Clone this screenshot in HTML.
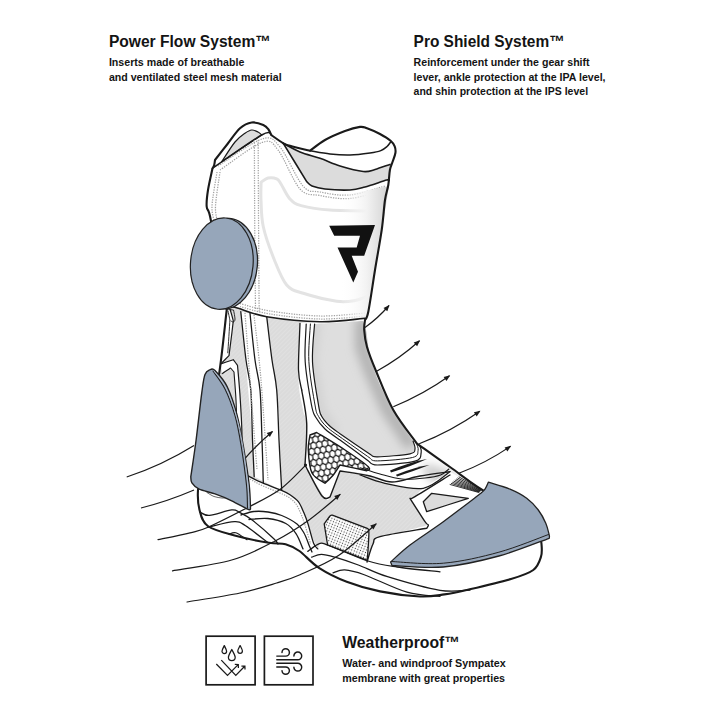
<!DOCTYPE html>
<html><head><meta charset="utf-8"><style>
html,body{margin:0;padding:0;background:#fff;}
svg{display:block;}
</style></head><body>
<svg width="720" height="720" viewBox="0 0 720 720">
<rect width="720" height="720" fill="#fff"/>
<defs>
<linearGradient id="shinShade" x1="0" y1="0" x2="1" y2="0"><stop offset="0" stop-color="#fff" stop-opacity="0"/><stop offset="0.55" stop-color="#f2f2f2"/><stop offset="1" stop-color="#d2d2d2"/></linearGradient>
<linearGradient id="ankGrad" x1="0" y1="0" x2="1" y2="0.3"><stop offset="0" stop-color="#d6d6d6"/><stop offset="0.45" stop-color="#e3e3e3"/><stop offset="1" stop-color="#c4c4c4"/></linearGradient>
<filter id="blur5" x="-50%" y="-50%" width="200%" height="200%"><feGaussianBlur stdDeviation="5"/></filter><filter id="blur4" x="-50%" y="-50%" width="200%" height="200%"><feGaussianBlur stdDeviation="4"/></filter>
<pattern id="hatch" width="3" height="3" patternUnits="userSpaceOnUse" patternTransform="rotate(45)"><rect width="3" height="3" fill="#dbdbdb"/><rect width="1" height="3" fill="#e0e0e0"/></pattern>
<pattern id="hex" width="5.716" height="9.900" patternUnits="userSpaceOnUse" patternTransform="rotate(-10) scale(1 1.15)"><rect width="5.716" height="9.900" fill="#fff"/><path d="M2.86 6.60 L-0.00 4.95 L0.00 1.65 L2.86 0.00 L5.72 1.65 L5.72 4.95 Z M0.00 11.55 L-2.86 9.90 L-2.86 6.60 L-0.00 4.95 L2.86 6.60 L2.86 9.90 Z M5.72 11.55 L2.86 9.90 L2.86 6.60 L5.72 4.95 L8.57 6.60 L8.57 9.90 Z M2.86 16.50 L-0.00 14.85 L0.00 11.55 L2.86 9.90 L5.72 11.55 L5.72 14.85 Z M0.00 1.65 L-2.86 -0.00 L-2.86 -3.30 L-0.00 -4.95 L2.86 -3.30 L2.86 0.00 Z M5.72 1.65 L2.86 -0.00 L2.86 -3.30 L5.72 -4.95 L8.57 -3.30 L8.57 0.00 Z" fill="none" stroke="#111" stroke-width="1.1"/></pattern>
<pattern id="dots" width="2.75" height="2.75" patternUnits="userSpaceOnUse" patternTransform="rotate(22)"><rect width="2.75" height="2.75" fill="#fff"/><circle cx="1.37" cy="1.37" r="0.6" fill="#3a3a3a"/></pattern>
</defs>
<path d="M212.5 168.3 C212.8 167.8 213.8 166.4 214.2 165.0 C214.6 163.6 214.9 160.8 215.0 160.0 C217.1 157.3 223.3 149.3 227.5 144.0 C231.7 138.7 236.0 131.9 240.0 128.3 C244.0 124.7 247.8 123.0 251.7 122.5 C255.6 122.0 260.5 123.8 263.3 125.0 C266.1 126.2 267.2 127.8 268.5 129.5 C269.8 131.2 270.8 134.1 271.2 135.0 C273.2 136.4 280.2 141.5 283.3 143.3 C286.4 145.1 285.6 144.6 290.0 145.8 C294.4 147.1 306.7 150.0 310.0 150.8 C312.5 149.0 319.2 143.3 325.0 140.0 C330.8 136.7 339.2 133.2 345.0 131.0 C350.8 128.8 356.3 127.4 360.0 126.9 C363.7 126.5 363.7 127.1 367.0 128.3 C370.3 129.5 376.1 131.9 380.0 134.0 C383.9 136.1 388.2 138.7 390.6 140.8 C393.1 142.9 393.9 144.4 394.7 146.4 C395.5 148.4 395.8 150.4 395.4 153.0 C395.0 155.6 393.4 159.2 392.5 162.0 C391.6 164.8 390.6 166.2 389.9 170.0 C389.2 173.8 389.1 180.0 388.3 185.0 C387.5 190.0 386.1 192.5 385.0 200.0 C383.9 207.5 383.4 218.3 381.7 230.0 C380.0 241.7 377.2 256.4 375.0 270.0 C372.8 283.6 370.0 303.4 368.3 311.7 C366.6 320.0 365.6 318.6 365.0 320.0 C364.9 321.7 363.9 325.5 364.2 330.0 C364.5 334.5 365.0 340.2 367.0 347.0 C369.0 353.8 371.6 360.5 376.0 371.0 C380.4 381.5 386.5 397.9 393.3 410.0 C400.1 422.1 412.8 437.8 416.7 443.3 C422.2 447.2 438.1 458.7 450.0 467.0 C461.9 475.3 476.3 487.5 488.0 493.0 C499.7 498.5 512.2 496.3 520.0 500.0 C527.8 503.7 531.8 510.0 535.0 515.0 C538.2 520.0 537.9 525.2 539.0 530.0 C540.1 534.8 541.2 539.5 541.5 544.0 C541.8 548.5 542.4 552.4 541.0 556.7 C539.6 561.0 538.3 566.3 533.3 570.0 C528.3 573.7 522.1 575.7 511.0 579.0 C499.9 582.3 477.8 587.4 466.7 590.0 C455.6 592.6 452.2 593.3 444.4 594.4 C436.6 595.5 430.7 597.0 420.0 596.5 C409.3 596.0 392.2 593.9 380.0 591.4 C367.8 588.9 356.9 585.6 346.7 581.7 C336.5 577.8 326.8 572.9 318.9 567.8 C311.0 562.7 304.9 554.9 299.4 551.0 C293.8 547.1 290.7 545.6 285.6 544.2 C280.5 542.8 277.2 544.2 268.9 542.8 C260.6 541.4 245.8 538.6 235.6 535.8 C225.4 533.0 213.8 530.4 207.8 526.0 C201.8 521.6 201.0 515.4 199.4 509.4 C197.8 503.4 197.6 496.6 198.0 490.0 C198.4 483.4 200.0 481.7 202.0 470.0 C204.0 458.3 207.1 436.1 210.0 420.0 C212.9 403.9 216.4 391.6 219.2 373.3 C222.0 355.0 225.4 320.6 226.7 310.0 C225.9 306.7 224.7 305.0 222.0 290.0 C219.3 275.0 213.4 233.9 210.8 220.0 C208.2 206.1 207.2 211.7 206.7 206.7 C206.2 201.7 207.0 196.4 208.0 190.0 C209.0 183.6 211.8 171.9 212.5 168.3 Z" fill="#ffffff" stroke="none" stroke-width="0" stroke-linecap="round" stroke-linejoin="round" />
<path d="M221.7 161.7 C223.9 158.4 231.1 146.7 235.0 142.0 C238.9 137.3 242.2 135.3 245.0 133.3 C247.8 131.3 249.5 130.2 251.7 130.0 C253.9 129.8 256.3 131.2 258.0 132.0 C259.7 132.8 261.1 134.5 261.7 135.0 C255.0 139.4 228.4 157.2 221.7 161.7 Z" fill="#dcdcdc" stroke="#1a1a1a" stroke-width="1.2" stroke-linecap="round" stroke-linejoin="round" />
<path d="M283.3 143.3 C286.1 144.8 293.9 149.5 300.0 152.0 C306.1 154.5 313.3 156.0 320.0 158.3 C326.7 160.6 332.8 163.8 340.0 166.0 C347.2 168.2 357.5 170.9 363.3 171.5 C369.1 172.1 370.4 170.8 375.0 169.5 C379.6 168.2 388.3 164.9 391.0 164.0 C390.7 167.0 389.3 179.0 389.0 182.0 C388.6 181.7 390.7 179.2 386.7 180.0 C382.7 180.8 371.1 185.3 365.0 187.0 C358.9 188.7 356.7 189.7 350.0 190.0 C343.3 190.3 331.3 189.7 325.0 189.0 C318.7 188.3 315.1 187.2 312.0 186.0 C308.9 184.8 307.6 182.4 306.7 181.7 C302.8 175.3 287.2 149.7 283.3 143.3 Z" fill="#dcdcdc" stroke="none" stroke-width="0" stroke-linecap="round" stroke-linejoin="round" />
<path d="M283.3 143.3 C286.1 144.8 293.9 149.5 300.0 152.0 C306.1 154.5 313.3 156.0 320.0 158.3 C326.7 160.6 332.8 163.8 340.0 166.0 C347.2 168.2 357.5 170.9 363.3 171.5 C369.1 172.1 370.6 170.7 375.0 169.5 C379.4 168.3 387.5 165.2 390.0 164.4 " fill="none" stroke="#1a1a1a" stroke-width="1.6" stroke-linecap="round" stroke-linejoin="round" />
<path d="M389.0 180.5 C388.6 180.4 390.7 178.9 386.7 180.0 C382.7 181.1 371.1 185.3 365.0 187.0 C358.9 188.7 356.7 189.7 350.0 190.0 C343.3 190.3 331.3 189.7 325.0 189.0 C318.7 188.3 315.1 187.2 312.0 186.0 C308.9 184.8 307.6 182.4 306.7 181.7 C302.8 175.3 287.2 149.7 283.3 143.3 " fill="none" stroke="#1a1a1a" stroke-width="1.6" stroke-linecap="round" stroke-linejoin="round" />
<path d="M212.5 168.3 C220.7 162.8 251.8 140.6 261.7 135.0 C271.6 129.4 270.0 135.0 271.7 135.0 " fill="none" stroke="#1a1a1a" stroke-width="1.6" stroke-linecap="round" stroke-linejoin="round" />
<path d="M310.0 150.8 C313.3 151.3 323.3 153.3 330.0 154.0 C336.7 154.7 343.3 155.2 350.0 155.0 C356.7 154.8 364.9 153.7 370.0 153.0 C375.1 152.3 378.0 151.7 380.8 150.6 C383.6 149.5 385.4 147.9 387.0 146.5 C388.6 145.1 390.0 142.8 390.6 142.0 " fill="none" stroke="#1a1a1a" stroke-width="1.5" stroke-linecap="round" stroke-linejoin="round" />
<path d="M383.3 211.1 C374.4 210.9 343.7 210.9 330.0 210.0 C316.3 209.1 307.8 207.4 301.1 205.6 C294.4 203.8 293.4 202.6 290.0 199.0 C286.6 195.4 283.2 187.3 281.0 184.0 C278.8 180.7 278.9 179.9 276.7 178.9 C274.5 177.9 270.6 177.4 268.0 178.0 C265.4 178.6 262.2 181.5 261.1 182.2 C261.1 185.2 260.6 192.6 261.0 200.0 C261.4 207.4 261.1 216.7 263.3 226.7 C265.5 236.7 270.5 250.3 274.4 260.0 C278.3 269.7 281.9 279.4 286.7 285.0 C291.5 290.6 295.0 290.6 303.3 293.3 C311.6 296.0 328.1 300.0 336.7 301.2 C345.3 302.4 349.8 301.4 355.0 300.5 C360.2 299.6 365.8 296.8 368.0 296.0 " fill="none" stroke="#e3e3e3" stroke-width="3.0" stroke-linecap="round" stroke-linejoin="round" />
<path d="M254.4 140.0 C254.4 150.0 254.5 180.0 254.6 200.0 C254.7 220.0 254.8 241.7 255.0 260.0 C255.2 278.3 255.4 301.7 255.5 310.0 " fill="none" stroke="#a2a2a2" stroke-width="1.25" stroke-linecap="butt" stroke-linejoin="round" stroke-dasharray="1.3 1.2"/>
<path d="M258.2 140.0 C258.2 150.0 258.3 180.0 258.4 200.0 C258.5 220.0 258.7 241.3 258.8 260.0 C258.9 278.7 259.1 303.3 259.2 312.0 " fill="none" stroke="#a2a2a2" stroke-width="1.25" stroke-linecap="butt" stroke-linejoin="round" stroke-dasharray="1.3 1.2"/>
<path d="M217.0 172.0 C216.2 177.7 212.4 197.7 212.0 206.0 C211.6 214.3 214.1 219.3 214.5 222.0 " fill="none" stroke="#a2a2a2" stroke-width="1.25" stroke-linecap="butt" stroke-linejoin="round" stroke-dasharray="1.3 1.2"/>
<path d="M220.0 172.0 C219.2 177.7 215.9 197.7 215.5 206.0 C215.1 214.3 217.2 219.3 217.5 222.0 " fill="none" stroke="#a2a2a2" stroke-width="1.25" stroke-linecap="butt" stroke-linejoin="round" stroke-dasharray="1.3 1.2"/>
<path d="M218.0 166.0 C225.3 161.5 251.7 142.2 262.0 139.0 C272.3 135.8 273.2 139.2 280.0 147.0 C286.8 154.8 296.3 178.5 303.0 186.0 C309.7 193.5 312.2 190.5 320.0 192.0 C327.8 193.5 339.2 196.0 350.0 195.0 C360.8 194.0 379.2 187.5 385.0 186.0 " fill="none" stroke="#a2a2a2" stroke-width="1.25" stroke-linecap="butt" stroke-linejoin="round" stroke-dasharray="1.3 1.2"/>
<path d="M220.0 170.0 C227.0 165.4 252.3 145.8 262.0 142.5 C271.7 139.2 271.7 142.2 278.0 150.0 C284.3 157.8 293.0 181.4 300.0 189.0 C307.0 196.6 311.7 193.9 320.0 195.5 C328.3 197.1 339.3 199.4 350.0 198.5 C360.7 197.6 378.3 191.4 384.0 190.0 " fill="none" stroke="#a2a2a2" stroke-width="1.25" stroke-linecap="butt" stroke-linejoin="round" stroke-dasharray="1.3 1.2"/>
<path d="M240.0 303.5 C245.0 304.8 256.7 308.9 270.0 311.0 C283.3 313.1 304.0 315.7 320.0 316.0 C336.0 316.3 358.3 313.5 366.0 313.0 " fill="none" stroke="#a2a2a2" stroke-width="1.25" stroke-linecap="butt" stroke-linejoin="round" stroke-dasharray="1.3 1.2"/>
<path d="M240.0 306.5 C245.0 307.8 256.7 311.9 270.0 314.0 C283.3 316.1 304.0 318.7 320.0 319.0 C336.0 319.3 358.3 316.5 366.0 316.0 " fill="none" stroke="#a2a2a2" stroke-width="1.25" stroke-linecap="butt" stroke-linejoin="round" stroke-dasharray="1.3 1.2"/>
<path d="M340 196 L389 186 L368 318 L340 318 Z" fill="url(#shinShade)"/>
<path d="M329.2 225.8 L375 225 L364.2 255.8 L351.7 255.8 L358 271.7 L353.3 282.5 L337.5 247.5 L356.7 247.5 L360 235.8 L334.2 235.8 Z" fill="#111"/>
<path d="M226.7 310.0 C228.6 309.7 231.3 306.9 238.0 308.0 C244.7 309.1 253.0 314.4 266.7 316.7 C280.4 319.0 303.6 321.4 320.0 321.7 C336.4 322.0 357.5 318.9 365.0 318.3 C364.9 320.2 363.9 325.2 364.2 330.0 C364.5 334.8 365.0 340.2 367.0 347.0 C369.0 353.8 371.6 360.5 376.0 371.0 C380.4 381.5 386.5 397.9 393.3 410.0 C400.1 422.1 412.8 437.8 416.7 443.3 C422.2 447.2 439.1 459.4 450.0 467.0 C460.9 474.6 476.7 485.3 482.0 489.0 C475.0 490.8 452.0 498.5 440.0 500.0 C428.0 501.5 415.0 498.3 410.0 498.0 C412.5 501.9 422.0 517.2 425.0 521.7 C428.0 526.2 435.5 522.5 428.0 525.0 C420.5 527.5 388.0 534.8 380.0 536.7 C378.8 537.9 375.2 539.8 373.0 544.0 C370.8 548.2 368.0 559.0 367.0 562.0 C360.7 559.3 337.1 548.7 329.2 545.6 C321.3 542.5 321.0 543.9 319.4 543.6 C319.1 544.5 318.1 548.0 317.8 548.9 C314.8 544.1 311.3 531.8 300.0 520.0 C288.7 508.2 264.2 486.0 250.0 478.0 C235.8 470.0 222.0 481.7 215.0 472.0 C208.0 462.3 207.3 436.4 208.0 420.0 C208.7 403.6 216.1 391.6 219.2 373.3 C222.3 355.0 225.4 320.6 226.7 310.0 Z" fill="url(#hatch)" stroke="none" stroke-width="0" stroke-linecap="round" stroke-linejoin="round" />
<path d="M241.0 311.7 C245.3 312.5 262.4 315.9 266.7 316.7 C267.6 323.9 270.1 344.4 272.0 360.0 C273.9 375.6 276.7 388.3 278.3 410.0 C279.9 431.7 281.1 476.7 281.7 490.0 C277.1 487.8 258.8 478.9 254.2 476.7 C253.5 465.6 252.2 437.5 250.0 410.0 C247.8 382.5 242.5 328.1 241.0 311.7 Z" fill="#fff" stroke="none" stroke-width="0" stroke-linecap="round" stroke-linejoin="round" />
<path d="M226.7 310.0 C227.2 309.8 229.4 309.2 230.0 309.0 C230.6 311.0 232.8 318.8 233.3 320.8 C233.1 322.7 232.7 326.2 232.0 332.0 C231.3 337.8 229.5 351.7 229.0 355.6 C227.6 357.0 222.2 362.5 220.8 363.9 C220.5 364.8 219.1 368.5 218.8 369.4 Z" fill="#fff" stroke="none" stroke-width="0" stroke-linecap="round" stroke-linejoin="round" />
<path d="M300.0 323.0 C299.8 332.5 298.0 365.5 298.5 380.0 C299.0 394.5 301.8 402.8 303.0 410.0 C304.2 417.2 305.6 413.7 306.0 423.0 C306.4 432.3 305.6 458.8 305.5 466.0 C308.8 471.3 320.9 492.8 325.0 498.0 C329.1 503.2 329.2 497.2 330.0 497.0 C331.7 492.5 338.3 474.5 340.0 470.0 C345.0 470.8 362.5 472.8 370.0 475.0 C377.5 477.2 376.1 481.1 385.0 483.3 C393.9 485.5 412.5 490.2 423.3 488.3 C434.1 486.4 445.6 474.5 450.0 471.7 C455.0 474.4 475.0 485.3 480.0 488.0 C469.4 480.6 427.2 450.8 416.7 443.3 C412.8 437.8 400.1 422.1 393.3 410.0 C386.5 397.9 380.4 381.5 376.0 371.0 C371.6 360.5 369.0 353.8 367.0 347.0 C365.0 340.2 364.5 334.5 364.2 330.0 C363.9 325.5 364.9 321.7 365.0 320.0 C357.5 320.3 330.8 321.2 320.0 321.7 C309.2 322.2 303.3 322.8 300.0 323.0 Z" fill="#fff" stroke="none" stroke-width="0" stroke-linecap="round" stroke-linejoin="round" />
<clipPath id="midClip"><path d="M300.0 323.0 C299.8 332.5 298.0 365.5 298.5 380.0 C299.0 394.5 301.8 402.8 303.0 410.0 C304.2 417.2 305.6 413.7 306.0 423.0 C306.4 432.3 305.6 458.8 305.5 466.0 C308.8 471.3 320.9 492.8 325.0 498.0 C329.1 503.2 329.2 497.2 330.0 497.0 C331.7 492.5 338.3 474.5 340.0 470.0 C345.0 470.8 362.5 472.8 370.0 475.0 C377.5 477.2 376.1 481.1 385.0 483.3 C393.9 485.5 412.5 490.2 423.3 488.3 C434.1 486.4 445.6 474.5 450.0 471.7 C455.0 474.4 475.0 485.3 480.0 488.0 C469.4 480.6 427.2 450.8 416.7 443.3 C412.8 437.8 400.1 422.1 393.3 410.0 C386.5 397.9 380.4 381.5 376.0 371.0 C371.6 360.5 369.0 353.8 367.0 347.0 C365.0 340.2 364.5 334.5 364.2 330.0 C363.9 325.5 364.9 321.7 365.0 320.0 C357.5 320.3 330.8 321.2 320.0 321.7 C309.2 322.2 303.3 322.8 300.0 323.0 Z"/></clipPath>
<g clip-path="url(#midClip)"><ellipse cx="443" cy="478" rx="24" ry="9" transform="rotate(28 443 478)" fill="#cfcfcf" filter="url(#blur5)"/></g>
<clipPath id="ankClip"><path d="M314.6 324.0 C314.2 330.3 311.9 348.2 312.5 361.7 C313.1 375.2 317.0 395.9 318.5 405.0 C320.0 414.1 319.7 412.6 321.5 416.0 C323.3 419.4 326.1 422.5 329.2 425.5 C332.3 428.5 333.0 428.8 340.0 433.8 C347.0 438.7 365.0 451.1 371.2 455.0 C377.5 458.9 371.0 457.1 377.5 456.9 C384.0 456.7 403.8 455.1 410.0 453.8 C416.2 452.4 414.5 450.8 415.0 448.8 C415.5 446.7 413.4 442.5 413.1 441.2 C410.6 437.4 403.5 427.4 398.0 418.0 C392.5 408.6 384.7 395.5 380.0 385.0 C375.3 374.5 372.3 364.2 370.0 355.0 C367.7 345.8 367.2 335.7 366.0 330.0 C364.8 324.3 363.5 322.5 363.0 321.0 C354.9 321.5 322.7 323.5 314.6 324.0 Z"/></clipPath>
<path d="M314.6 324.0 C314.2 330.3 311.9 348.2 312.5 361.7 C313.1 375.2 317.0 395.9 318.5 405.0 C320.0 414.1 319.7 412.6 321.5 416.0 C323.3 419.4 326.1 422.5 329.2 425.5 C332.3 428.5 333.0 428.8 340.0 433.8 C347.0 438.7 365.0 451.1 371.2 455.0 C377.5 458.9 371.0 457.1 377.5 456.9 C384.0 456.7 403.8 455.1 410.0 453.8 C416.2 452.4 414.5 450.8 415.0 448.8 C415.5 446.7 413.4 442.5 413.1 441.2 C410.6 437.4 403.5 427.4 398.0 418.0 C392.5 408.6 384.7 395.5 380.0 385.0 C375.3 374.5 372.3 364.2 370.0 355.0 C367.7 345.8 367.2 335.7 366.0 330.0 C364.8 324.3 363.5 322.5 363.0 321.0 C354.9 321.5 322.7 323.5 314.6 324.0 Z" fill="#dedede" stroke="none" stroke-width="0" stroke-linecap="round" stroke-linejoin="round" />
<g clip-path="url(#ankClip)"><path d="M316 320 L312 362 L320 410 L335 432" stroke="#d2d2d2" stroke-width="10" fill="none" filter="url(#blur4)"/><path d="M362 318 L362 347 L371 372 L388 410 L412 446" stroke="#b4b4b4" stroke-width="14" fill="none" filter="url(#blur5)"/></g>
<path d="M314.6 324.0 C314.2 330.3 311.9 348.2 312.5 361.7 C313.1 375.2 317.0 395.9 318.5 405.0 C320.0 414.1 319.7 412.6 321.5 416.0 C323.3 419.4 326.1 422.5 329.2 425.5 C332.3 428.5 338.2 432.4 340.0 433.8 C345.2 437.3 366.0 451.5 371.2 455.0 C372.3 455.3 371.0 457.1 377.5 456.9 C384.0 456.7 403.8 455.1 410.0 453.8 C416.2 452.4 414.5 450.8 415.0 448.8 C415.5 446.7 413.4 442.5 413.1 441.2 " fill="none" stroke="#1a1a1a" stroke-width="1.2" stroke-linecap="round" stroke-linejoin="round" />
<path d="M310.4 324.0 C310.2 330.3 308.1 348.2 308.9 361.7 C309.6 375.2 313.4 395.9 315.0 405.0 C316.6 414.1 316.5 412.8 318.6 416.5 C320.6 420.2 323.5 423.9 327.1 427.2 C330.7 430.6 337.9 435.3 340.0 436.9 C345.0 440.4 365.0 454.6 370.0 458.1 C371.2 458.6 370.4 461.1 377.5 460.9 C384.6 460.8 405.7 459.2 412.5 457.5 C419.3 455.8 417.4 452.9 418.1 450.6 C418.8 448.3 416.8 444.9 416.6 443.8 " fill="none" stroke="#1a1a1a" stroke-width="1.0" stroke-linecap="round" stroke-linejoin="round" />
<path d="M306.2 324.0 C306.1 330.3 304.3 348.2 305.2 361.7 C306.1 375.2 309.8 395.8 311.5 405.0 C313.2 414.2 313.4 413.0 315.6 417.0 C317.9 421.0 320.9 425.2 325.0 429.0 C329.1 432.8 337.5 438.2 340.0 440.0 C344.8 443.5 364.0 457.7 368.8 461.2 C370.2 461.9 369.8 465.0 377.5 465.0 C385.2 465.0 407.7 463.3 415.0 461.2 C422.3 459.2 420.4 455.0 421.2 452.5 C422.1 450.0 420.2 447.3 420.0 446.2 " fill="none" stroke="#1a1a1a" stroke-width="1.2" stroke-linecap="round" stroke-linejoin="round" />
<path d="M310.0 435.0 C311.1 434.6 315.6 432.9 316.7 432.5 C321.4 435.4 336.4 444.3 345.0 450.0 C353.6 455.7 364.7 463.2 368.3 466.7 C371.9 470.2 367.0 470.1 366.7 470.8 C362.2 469.8 344.4 466.0 340.0 465.0 C338.9 466.7 335.8 471.9 333.3 475.0 C330.8 478.1 326.4 481.9 325.0 483.3 C322.8 481.6 314.8 478.6 312.0 473.0 C309.2 467.4 308.6 456.3 308.3 450.0 C308.0 443.7 309.7 437.5 310.0 435.0 Z" fill="url(#hex)" stroke="#1a1a1a" stroke-width="1.4" stroke-linecap="round" stroke-linejoin="round" />
<path d="M301.7 390.0 C302.5 395.6 306.1 410.8 306.7 423.3 C307.2 435.8 305.3 458.1 305.0 465.0 C307.8 470.2 317.8 490.7 322.0 496.0 C326.2 501.3 328.7 496.8 330.0 497.0 C331.7 492.7 338.3 475.3 340.0 471.0 C345.0 471.8 361.3 474.2 370.0 476.0 C378.7 477.8 383.7 482.0 392.0 482.0 C400.3 482.0 410.3 477.7 420.0 476.0 C429.7 474.3 445.0 472.4 450.0 471.7 " fill="none" stroke="#1a1a1a" stroke-width="1.4" stroke-linecap="round" stroke-linejoin="round" />
<path d="M240.8 311.7 C241.7 319.8 244.3 346.9 246.0 360.0 C247.7 373.1 249.7 376.7 250.8 390.0 C251.9 403.3 251.9 425.6 252.5 440.0 C253.1 454.4 253.9 470.6 254.2 476.7 " fill="none" stroke="#1a1a1a" stroke-width="1.3" stroke-linecap="round" stroke-linejoin="round" />
<path d="M250.0 313.3 C250.8 321.1 253.3 347.2 255.0 360.0 C256.7 372.8 258.8 376.7 260.0 390.0 C261.2 403.3 261.4 424.4 262.0 440.0 C262.6 455.6 263.1 476.1 263.3 483.3 " fill="none" stroke="#1a1a1a" stroke-width="1.3" stroke-linecap="round" stroke-linejoin="round" />
<path d="M266.7 316.7 C267.6 323.9 270.3 347.8 272.0 360.0 C273.7 372.2 275.5 376.7 276.7 390.0 C277.9 403.3 278.2 423.3 279.0 440.0 C279.8 456.7 281.2 481.7 281.7 490.0 " fill="none" stroke="#1a1a1a" stroke-width="1.3" stroke-linecap="round" stroke-linejoin="round" />
<path d="M300.0 323.3 C299.8 331.1 298.2 358.9 298.5 370.0 C298.8 381.1 301.2 386.7 301.7 390.0 " fill="none" stroke="#1a1a1a" stroke-width="1.3" stroke-linecap="round" stroke-linejoin="round" />
<path d="M245.0 313.0 C245.8 324.2 248.0 353.8 250.0 380.0 C252.0 406.2 255.8 455.0 257.0 470.0 " fill="none" stroke="#a2a2a2" stroke-width="1.25" stroke-linecap="butt" stroke-linejoin="round" stroke-dasharray="1.3 1.2"/>
<path d="M254.0 315.0 C255.2 325.8 258.7 352.5 261.0 380.0 C263.3 407.5 266.8 463.3 268.0 480.0 " fill="none" stroke="#a2a2a2" stroke-width="1.25" stroke-linecap="butt" stroke-linejoin="round" stroke-dasharray="1.3 1.2"/>
<path d="M230.0 309.0  C230.6 311.0 232.8 318.8 233.3 320.8 C233.1 322.7 232.7 326.2 232.0 332.0 C231.3 337.8 229.5 351.7 229.0 355.6 C227.6 357.0 222.2 362.5 220.8 363.9 " fill="none" stroke="#1a1a1a" stroke-width="1.2" stroke-linecap="round" stroke-linejoin="round" />
<path d="M228.0 311.0 C228.3 312.5 229.6 318.5 229.9 320.0 C229.6 325.5 228.2 347.3 227.8 352.8 " fill="none" stroke="#1a1a1a" stroke-width="0.9" stroke-linecap="round" stroke-linejoin="round" />
<path d="M227.5 309.5 C228.5 309.6 232.5 309.9 233.5 310.0 C233.8 311.5 235.0 317.0 235.0 319.0 C235.0 321.0 234.2 321.7 233.5 322.0 C232.8 322.3 231.4 321.2 231.0 321.0 " fill="none" stroke="#1a1a1a" stroke-width="0.9" stroke-linecap="round" stroke-linejoin="round" />
<path d="M220.8 363.9 C222.9 363.2 231.2 360.4 233.3 359.7 C234.0 360.6 236.8 364.4 237.5 365.3 C238.0 371.1 239.7 389.2 240.3 400.0 C240.9 410.8 240.9 425.0 241.0 430.0 C240.3 430.0 237.7 430.0 237.0 430.0 C236.8 425.0 236.5 409.7 236.0 400.0 C235.5 390.3 234.3 376.7 234.0 372.0 C233.4 371.3 231.2 368.7 230.6 368.0 C229.2 368.9 223.6 372.7 222.2 373.6 Z" fill="#fff" stroke="none" stroke-width="0" stroke-linecap="round" stroke-linejoin="round" />
<path d="M220.8 363.9  C222.9 363.2 231.2 360.4 233.3 359.7 C234.0 360.6 236.8 364.4 237.5 365.3 C238.0 371.1 239.6 387.6 240.3 400.0 C241.1 412.4 242.1 428.3 242.0 440.0 C241.9 451.7 240.3 465.0 240.0 470.0 " fill="none" stroke="#1a1a1a" stroke-width="1.2" stroke-linecap="round" stroke-linejoin="round" />
<path d="M222.2 373.6  C223.6 372.7 229.2 368.9 230.6 368.0 C231.2 368.7 233.4 371.3 234.0 372.0 C234.3 376.7 235.5 390.3 236.0 400.0 C236.5 409.7 236.8 425.0 237.0 430.0 " fill="none" stroke="#1a1a1a" stroke-width="1.1" stroke-linecap="round" stroke-linejoin="round" />
<path d="M410.0 498.3 C412.5 502.2 421.9 517.2 425.0 521.7 C428.1 526.2 428.0 523.9 428.3 525.0 C428.6 526.1 427.0 527.8 426.7 528.3 C418.9 529.7 388.9 534.1 380.0 536.7 C371.1 539.3 375.2 539.8 373.0 544.0 C370.8 548.2 368.0 559.0 367.0 562.0 C371.2 562.7 387.8 565.3 392.0 566.0 C408.0 553.8 472.0 505.2 488.0 493.0 C481.7 489.4 456.3 475.2 450.0 471.7 C445.6 474.5 429.1 484.1 423.3 488.3 C417.5 492.5 417.2 495.0 415.0 496.7 C412.8 498.4 410.8 498.0 410.0 498.3 Z" fill="#fff" stroke="none" stroke-width="0" stroke-linecap="round" stroke-linejoin="round" />
<path d="M360.0 475.0 C364.2 476.4 374.4 481.1 385.0 483.3 C395.6 485.5 412.5 490.2 423.3 488.3 C434.1 486.4 445.6 474.5 450.0 471.7 " fill="none" stroke="#1a1a1a" stroke-width="1.2" stroke-linecap="round" stroke-linejoin="round" />
<path d="M450.0 475.0 C444.2 478.6 421.7 492.8 415.0 496.7 C408.3 500.6 410.8 498.0 410.0 498.3 C412.5 502.2 421.9 517.2 425.0 521.7 C428.1 526.2 428.0 523.9 428.3 525.0 C428.6 526.1 427.0 527.8 426.7 528.3 C418.9 529.7 388.9 534.1 380.0 536.7 C371.1 539.3 375.2 539.8 373.0 544.0 C370.8 548.2 368.0 559.0 367.0 562.0 " fill="none" stroke="#1a1a1a" stroke-width="1.4" stroke-linecap="round" stroke-linejoin="round" />
<path d="M423.3 501.7 C424.7 500.3 430.3 494.7 431.7 493.3 C437.8 494.1 462.2 497.5 468.3 498.3 C461.4 500.5 433.6 509.5 426.7 511.7 C426.1 510.0 423.9 503.4 423.3 501.7 Z" fill="#dcdcdc" stroke="#1a1a1a" stroke-width="1.3" stroke-linecap="round" stroke-linejoin="round" />
<path d="M324.2 524.0 C325.2 522.7 328.5 517.5 330.0 516.0 C331.5 514.5 332.5 515.4 333.0 515.3 C338.7 517.5 361.6 526.1 367.3 528.3 C367.6 529.1 368.9 527.6 368.9 533.0 C368.9 538.4 367.6 555.8 367.3 560.4 C360.7 557.8 334.2 547.6 327.6 545.0 C327.0 541.5 324.8 527.5 324.2 524.0 Z" fill="url(#dots)" stroke="#1a1a1a" stroke-width="1.3" stroke-linecap="round" stroke-linejoin="round" />
<path d="M214.0 470.0 C219.5 470.9 239.1 473.3 246.9 475.3 C254.7 477.3 255.2 479.8 260.8 482.2 C266.4 484.6 275.4 487.8 280.3 489.9 C285.2 492.0 287.0 492.7 290.0 494.7 C293.0 496.7 296.0 498.7 298.3 501.7 C300.6 504.7 302.3 509.1 303.9 512.8 C305.5 516.5 306.4 518.8 308.0 523.9 C309.6 529.0 312.0 539.1 313.6 543.3 C315.2 547.5 317.1 548.0 317.8 548.9 C313.2 548.4 302.0 547.3 290.0 546.0 C278.0 544.7 256.8 543.0 246.0 541.0 C235.2 539.0 231.3 536.3 225.0 534.0 C218.7 531.7 212.0 529.3 208.0 527.0 C204.0 524.7 202.7 523.7 201.0 520.0 C199.3 516.3 198.5 510.0 198.0 505.0 C197.5 500.0 195.3 495.8 198.0 490.0 C200.7 484.2 211.3 473.3 214.0 470.0 Z" fill="#fff" stroke="none" stroke-width="0" stroke-linecap="round" stroke-linejoin="round" />
<path d="M246.9 475.3 C249.2 476.4 255.2 479.8 260.8 482.2 C266.4 484.6 275.4 487.8 280.3 489.9 C285.2 492.0 287.0 492.7 290.0 494.7 C293.0 496.7 296.0 498.7 298.3 501.7 C300.6 504.7 302.3 509.1 303.9 512.8 C305.5 516.5 306.4 518.8 308.0 523.9 C309.6 529.0 312.0 539.1 313.6 543.3 C315.2 547.5 317.1 548.0 317.8 548.9 " fill="none" stroke="#1a1a1a" stroke-width="1.3" stroke-linecap="round" stroke-linejoin="round" />
<path d="M250.0 479.0 C252.0 480.1 257.0 483.2 262.0 485.5 C267.0 487.8 275.5 491.0 280.0 493.0 C284.5 495.0 286.3 495.7 289.0 497.5 C291.7 499.3 294.0 501.2 296.0 504.0 C298.0 506.8 299.5 510.5 301.0 514.0 C302.5 517.5 303.4 520.0 305.0 525.0 C306.6 530.0 309.6 540.8 310.5 544.0 " fill="none" stroke="#a2a2a2" stroke-width="1.25" stroke-linecap="butt" stroke-linejoin="round" stroke-dasharray="1.3 1.2"/>
<path d="M207.0 492.5 C208.2 493.2 211.5 495.6 214.0 496.5 C216.5 497.4 219.7 497.8 222.0 498.0 C224.3 498.2 227.0 497.6 228.0 497.5 " fill="none" stroke="#555" stroke-width="0.9" stroke-linecap="round" stroke-linejoin="round" />
<path d="M232.0 307.0 C233.1 307.2 232.5 306.7 238.3 308.3 C244.1 309.9 253.1 314.5 266.7 316.7 C280.3 318.9 303.6 321.4 320.0 321.7 C336.4 322.0 357.5 318.9 365.0 318.3 " fill="none" stroke="#1a1a1a" stroke-width="1.6" stroke-linecap="round" stroke-linejoin="round" />
<path d="M199.7 512.0 C201.3 512.6 204.1 515.8 209.4 515.4 C214.7 515.0 226.6 510.4 231.7 509.9 C236.8 509.4 236.5 510.9 240.0 512.6 C243.5 514.3 246.9 516.0 252.5 520.3 C258.1 524.6 269.1 534.3 273.3 538.3 C277.6 542.2 277.2 543.0 278.0 544.0 " fill="none" stroke="#1a1a1a" stroke-width="1.3" stroke-linecap="round" stroke-linejoin="round" />
<path d="M208.0 527.2 C212.4 526.3 228.1 521.9 234.4 521.7 C240.7 521.5 240.0 522.3 245.6 525.8 C251.2 529.3 264.1 539.7 267.8 542.5 " fill="none" stroke="#1a1a1a" stroke-width="1.3" stroke-linecap="round" stroke-linejoin="round" />
<path d="M228.9 534.2 C230.1 534.0 232.8 531.9 235.8 532.8 C238.8 533.7 245.1 538.6 247.0 539.7 " fill="none" stroke="#1a1a1a" stroke-width="1.2" stroke-linecap="round" stroke-linejoin="round" />
<path d="M241.0 515.0 C243.2 514.4 249.4 512.0 253.9 511.5 C258.4 511.0 263.4 511.3 268.0 512.0 C272.6 512.7 276.9 513.5 281.7 515.5 C286.5 517.5 293.3 521.1 297.0 524.0 C300.7 526.9 301.9 529.3 304.0 533.0 C306.1 536.7 308.1 542.9 309.4 546.1 C310.7 549.3 311.6 551.0 312.0 552.0 " fill="none" stroke="#1a1a1a" stroke-width="1.3" stroke-linecap="round" stroke-linejoin="round" />
<path d="M249.0 519.5 C252.1 519.3 261.7 517.8 267.8 518.5 C273.9 519.2 281.1 521.0 285.8 523.5 C290.5 526.0 293.1 529.4 296.0 533.6 C298.9 537.8 301.8 546.4 303.0 548.9 " fill="none" stroke="#1a1a1a" stroke-width="1.3" stroke-linecap="round" stroke-linejoin="round" />
<path d="M307.8 551.4 C309.7 550.1 315.8 544.6 319.4 543.6 C323.0 542.6 321.1 542.7 329.2 545.6 C337.3 548.5 356.7 557.4 368.0 561.0 C379.3 564.6 385.2 565.2 397.2 567.0 C409.2 568.8 432.9 571.0 440.0 571.8 " fill="none" stroke="#1a1a1a" stroke-width="1.3" stroke-linecap="round" stroke-linejoin="round" />
<path d="M311.7 557.2 C313.3 556.7 317.5 554.3 321.4 554.3 C325.3 554.3 328.9 555.4 335.0 557.2 C341.1 559.0 349.6 561.8 358.3 565.0 C367.1 568.2 373.9 572.5 387.5 576.7 C401.1 580.9 426.2 588.1 440.0 590.3 C453.8 592.5 465.0 590.0 470.0 590.0 " fill="none" stroke="#1a1a1a" stroke-width="1.3" stroke-linecap="round" stroke-linejoin="round" />
<path d="M333.0 572.8 C334.9 572.3 339.5 569.6 344.7 569.9 C349.9 570.2 353.8 571.0 364.2 574.7 C374.6 578.4 394.4 588.6 407.0 592.2 C419.6 595.8 434.5 595.8 440.0 596.5 " fill="none" stroke="#1a1a1a" stroke-width="1.2" stroke-linecap="round" stroke-linejoin="round" />
<path d="M126.7 477.0 Q162.2 465.3 194.0 445.5" fill="none" stroke="#1a1a1a" stroke-width="1.2"/>
<path d="M141.0 508.0 Q168.2 501.1 194.0 490.0" fill="none" stroke="#1a1a1a" stroke-width="1.2"/>
<path d="M158.0 539.6 C163.3 538.5 181.7 534.9 190.0 532.8 C198.3 530.7 198.3 531.5 208.0 527.2 C217.7 522.9 236.2 513.5 248.3 507.2 C260.4 500.9 270.8 496.1 280.3 489.2 C289.8 482.3 301.1 469.5 305.3 465.6 " fill="none" stroke="#1a1a1a" stroke-width="1.2" stroke-linecap="round" stroke-linejoin="round" />
<path d="M172.5 570.8 C182.4 569.0 214.7 564.9 231.7 560.0 C248.7 555.1 261.8 548.0 274.7 541.2 C287.6 534.5 298.5 527.5 309.4 519.7 C320.3 511.9 334.9 498.7 340.0 494.5 " fill="none" stroke="#1a1a1a" stroke-width="1.2" stroke-linecap="round" stroke-linejoin="round" />
<path d="M187.0 602.0 C195.8 600.5 225.1 596.2 240.0 593.0 C254.9 589.8 266.7 586.0 276.7 583.0 C286.7 580.0 289.6 579.3 300.0 574.7 C310.4 570.1 326.2 563.8 338.9 555.3 C351.6 546.8 369.8 529.2 376.0 524.0 " fill="none" stroke="#1a1a1a" stroke-width="1.2" stroke-linecap="round" stroke-linejoin="round" />
<path d="M243.3 460.4 Q256.7 444.8 272.5 431.5" fill="none" stroke="#1a1a1a" stroke-width="1.2"/><path d="M273.1 431.0 L269.9 437.0 L266.7 433.1 Z" fill="#1a1a1a"/>
<path d="M340.6 494.0 L337.3 499.9 L334.2 496.1 Z" fill="#1a1a1a"/>
<path d="M376.6 523.5 L373.4 529.5 L370.2 525.6 Z" fill="#1a1a1a"/>
<circle cx="305.5" cy="465" r="1.6" fill="#1a1a1a"/>
<path d="M390 470.6 Q410 462 427 459 Q412 466 391 472.5 Z" fill="#1a1a1a"/>
<path d="M396 474.7 Q415 467 429.4 465 Q414 471 397 476.5 Z" fill="#1a1a1a"/>
<path d="M360.0 467.8 C363.3 468.8 373.1 472.1 380.0 474.0 C386.9 475.9 394.2 478.3 401.7 479.0 C409.2 479.7 418.5 478.7 425.0 478.0 C431.5 477.3 436.6 476.5 440.6 475.0 C444.6 473.5 447.5 470.0 448.9 469.0 " fill="none" stroke="#1a1a1a" stroke-width="1.1" stroke-linecap="round" stroke-linejoin="round" />
<path d="M458.75 476.80 L481.70 489.80" stroke="#111" stroke-width="0.85"/>
<path d="M457.46 477.89 L481.30 490.19" stroke="#111" stroke-width="0.85"/>
<path d="M456.16 478.97 L480.90 490.57" stroke="#111" stroke-width="0.85"/>
<path d="M454.87 480.06 L480.50 490.96" stroke="#111" stroke-width="0.85"/>
<path d="M453.58 481.14 L480.10 491.34" stroke="#111" stroke-width="0.85"/>
<path d="M452.29 482.23 L479.70 491.73" stroke="#111" stroke-width="0.85"/>
<path d="M450.99 483.31 L479.30 492.11" stroke="#111" stroke-width="0.85"/>
<path d="M449.70 484.40 L478.90 492.50" stroke="#111" stroke-width="0.85"/>
<path d="M212.5 168.3 C212.8 167.8 213.8 166.4 214.2 165.0 C214.6 163.6 214.9 160.8 215.0 160.0 C217.1 157.3 223.3 149.3 227.5 144.0 C231.7 138.7 236.0 131.9 240.0 128.3 C244.0 124.7 247.8 123.0 251.7 122.5 C255.6 122.0 260.5 123.8 263.3 125.0 C266.1 126.2 267.2 127.8 268.5 129.5 C269.8 131.2 270.8 134.1 271.2 135.0 C273.2 136.4 280.2 141.5 283.3 143.3 C286.4 145.1 285.6 144.6 290.0 145.8 C294.4 147.1 306.7 150.0 310.0 150.8 C312.5 149.0 319.2 143.3 325.0 140.0 C330.8 136.7 339.2 133.2 345.0 131.0 C350.8 128.8 356.3 127.4 360.0 126.9 C363.7 126.5 363.7 127.1 367.0 128.3 C370.3 129.5 376.1 131.9 380.0 134.0 C383.9 136.1 388.2 138.7 390.6 140.8 C393.1 142.9 393.9 144.4 394.7 146.4 C395.5 148.4 395.8 150.4 395.4 153.0 C395.0 155.6 393.4 159.2 392.5 162.0 C391.6 164.8 390.6 166.2 389.9 170.0 C389.2 173.8 389.1 180.0 388.3 185.0 C387.5 190.0 386.1 192.5 385.0 200.0 C383.9 207.5 383.4 218.3 381.7 230.0 C380.0 241.7 377.2 256.4 375.0 270.0 C372.8 283.6 370.0 303.4 368.3 311.7 C366.6 320.0 365.6 318.6 365.0 320.0 C364.9 321.7 363.9 325.5 364.2 330.0 C364.5 334.5 365.0 340.2 367.0 347.0 C369.0 353.8 371.6 360.5 376.0 371.0 C380.4 381.5 386.5 397.9 393.3 410.0 C400.1 422.1 412.8 437.8 416.7 443.3 C422.2 447.2 438.1 458.7 450.0 467.0 C461.9 475.3 476.3 487.5 488.0 493.0 C499.7 498.5 512.2 496.3 520.0 500.0 C527.8 503.7 531.8 510.0 535.0 515.0 C538.2 520.0 537.9 525.2 539.0 530.0 C540.1 534.8 541.2 539.5 541.5 544.0 C541.8 548.5 542.4 552.4 541.0 556.7 C539.6 561.0 538.3 566.3 533.3 570.0 C528.3 573.7 522.1 575.7 511.0 579.0 C499.9 582.3 477.8 587.4 466.7 590.0 C455.6 592.6 452.2 593.3 444.4 594.4 C436.6 595.5 430.7 597.0 420.0 596.5 C409.3 596.0 392.2 593.9 380.0 591.4 C367.8 588.9 356.9 585.6 346.7 581.7 C336.5 577.8 326.8 572.9 318.9 567.8 C311.0 562.7 304.9 554.9 299.4 551.0 C293.8 547.1 290.7 545.6 285.6 544.2 C280.5 542.8 277.2 544.2 268.9 542.8 C260.6 541.4 245.8 538.6 235.6 535.8 C225.4 533.0 213.8 530.4 207.8 526.0 C201.8 521.6 201.0 515.4 199.4 509.4 C197.8 503.4 197.6 496.6 198.0 490.0 C198.4 483.4 200.0 481.7 202.0 470.0 C204.0 458.3 207.1 436.1 210.0 420.0 C212.9 403.9 216.4 391.6 219.2 373.3 C222.0 355.0 225.4 320.6 226.7 310.0 C225.9 306.7 224.7 305.0 222.0 290.0 C219.3 275.0 213.4 233.9 210.8 220.0 C208.2 206.1 207.2 211.7 206.7 206.7 C206.2 201.7 207.0 196.4 208.0 190.0 C209.0 183.6 211.8 171.9 212.5 168.3 Z" fill="none" stroke="#1a1a1a" stroke-width="2.1" stroke-linecap="round" stroke-linejoin="round" />
<g transform="rotate(5 221.8 263.6)"><ellipse cx="225.6" cy="263.3" rx="31.8" ry="45.4" fill="#96a6ba" stroke="#222" stroke-width="1.3"/><ellipse cx="221.8" cy="263.6" rx="31.3" ry="45.8" fill="#96a6ba" stroke="#222" stroke-width="1.2"/></g>
<path d="M210.6 369.4 C209.7 370.2 206.5 370.4 205.0 374.4 C203.5 378.4 203.2 382.4 201.7 393.3 C200.2 404.2 197.9 426.1 196.1 440.0 C194.3 453.9 191.7 470.6 190.8 476.7 C191.0 477.7 190.5 480.8 191.9 482.9 C193.3 485.0 195.3 487.4 199.2 489.2 C203.0 491.0 209.6 492.0 215.0 493.9 C220.4 495.8 226.3 498.2 231.7 500.8 C237.1 503.4 244.5 507.8 247.6 509.2 C250.7 510.6 250.0 509.0 250.5 509.0 C250.3 505.0 250.3 494.8 249.2 485.0 C248.1 475.2 246.0 461.6 244.0 450.0 C242.0 438.4 240.0 426.2 237.2 415.6 C234.4 405.1 230.9 394.2 227.2 386.7 C223.5 379.2 217.8 373.5 215.0 370.6 C212.2 367.7 211.3 369.6 210.6 369.4 Z" fill="#96a6ba" stroke="#222" stroke-width="1.4" stroke-linecap="round" stroke-linejoin="round" />
<path d="M247.5 508.0 C247.3 504.2 247.6 495.5 246.5 485.0 C245.4 474.5 242.9 456.6 241.0 445.0 C239.1 433.4 237.7 425.0 235.0 415.6 C232.3 406.2 228.7 396.3 225.0 388.9 C221.3 381.5 215.0 374.0 213.0 371.0 " fill="none" stroke="#222" stroke-width="1.1" stroke-linecap="round" stroke-linejoin="round" />
<path d="M249.0 507.0 C248.8 503.3 249.1 495.3 248.0 485.0 C246.9 474.7 244.6 456.6 242.6 445.0 C240.6 433.4 239.0 425.1 236.2 415.6 C233.4 406.1 229.7 395.4 226.0 388.0 C222.3 380.6 216.0 373.8 214.0 371.0 " fill="none" stroke="#b4c0d0" stroke-width="0.9" stroke-linecap="round" stroke-linejoin="round" />
<path d="M488.3 482.2 C487.8 483.4 486.2 487.3 485.0 489.2 C483.8 491.1 481.5 492.6 480.8 493.3 C474.6 498.0 455.1 513.1 443.3 521.7 C431.5 530.3 418.8 538.3 410.0 545.0 C401.2 551.7 393.8 559.2 390.6 562.0 C390.8 562.6 391.8 564.9 392.0 565.5 C400.6 565.8 425.5 568.6 443.3 567.0 C461.1 565.4 481.2 560.8 498.9 556.0 C516.5 551.2 540.8 541.2 549.2 538.3 C549.2 537.8 549.8 537.5 549.2 535.0 C548.6 532.5 547.6 527.5 545.8 523.3 C544.0 519.1 541.5 514.2 538.3 510.0 C535.1 505.8 531.4 501.8 526.7 498.3 C522.0 494.8 516.4 491.9 510.0 489.2 C503.6 486.5 491.9 483.4 488.3 482.2 Z" fill="#96a6ba" stroke="#222" stroke-width="1.3" stroke-linecap="round" stroke-linejoin="round" />
<path d="M391.5 561.5 C400.1 561.8 425.4 564.8 443.3 563.2 C461.2 561.7 481.4 557.0 498.9 552.2 C516.4 547.4 540.2 537.5 548.5 534.5 " fill="none" stroke="#222" stroke-width="1.0" stroke-linecap="round" stroke-linejoin="round" />
<path d="M365.0 327.5 Q378.3 317.9 389.0 305.5" fill="none" stroke="#1a1a1a" stroke-width="1.2"/><path d="M389.5 304.9 L387.3 311.3 L383.5 308.0 Z" fill="#1a1a1a"/>
<path d="M375.8 371.7 Q399.5 358.9 419.5 340.8" fill="none" stroke="#1a1a1a" stroke-width="1.2"/><path d="M420.1 340.3 L417.1 346.3 L413.7 342.6 Z" fill="#1a1a1a"/>
<path d="M393.3 406.7 Q423.3 394.6 449.5 375.8" fill="none" stroke="#1a1a1a" stroke-width="1.2"/><path d="M450.2 375.3 L446.5 381.0 L443.6 377.0 Z" fill="#1a1a1a"/>
<path d="M419.2 443.8 Q451.5 431.1 479.8 411.2" fill="none" stroke="#1a1a1a" stroke-width="1.2"/><path d="M480.5 410.7 L476.7 416.4 L473.9 412.3 Z" fill="#1a1a1a"/>
<path d="M458.9 473.3 Q486.3 462.9 510.5 446.3" fill="none" stroke="#1a1a1a" stroke-width="1.2"/><path d="M511.2 445.8 L507.4 451.5 L504.6 447.4 Z" fill="#1a1a1a"/>
<rect x="206.1" y="636.2" width="49" height="48.6" fill="none" stroke="#1a1a1a" stroke-width="1.7"/>
<rect x="264.4" y="636.2" width="48.6" height="48.6" fill="none" stroke="#1a1a1a" stroke-width="1.7"/>
<path d="M224.3 645.6 C225.22 647.5600000000001 226.60000000000002 649.82 226.60000000000002 651.2 A2.3 2.3 0 0 1 222.0 651.2 C222.0 649.82 223.38000000000002 647.5600000000001 224.3 645.6 Z" fill="none" stroke="#1a1a1a" stroke-width="1.25" stroke-linejoin="round"/>
<path d="M240.1 645.6 C241.01999999999998 647.49 242.4 649.62 242.4 651.0 A2.3 2.3 0 0 1 237.79999999999998 651.0 C237.79999999999998 649.62 239.18 647.49 240.1 645.6 Z" fill="none" stroke="#1a1a1a" stroke-width="1.25" stroke-linejoin="round"/>
<path d="M231.8 649.5 C233.16000000000003 652.23 235.20000000000002 655.26 235.20000000000002 657.3 A3.4 3.4 0 0 1 228.4 657.3 C228.4 655.26 230.44 652.23 231.8 649.5 Z" fill="none" stroke="#1a1a1a" stroke-width="1.25" stroke-linejoin="round"/>
<path d="M216.3 664 L227.5 675.4 L237.9 664.9 M234.8 664.4 L238.3 664.5 L238.4 668 M221.3 660.1 L235.8 675.4 L244.7 666.2 M241.4 666 L244.9 666 L245 669.6" fill="none" stroke="#1a1a1a" stroke-width="1.25" stroke-linejoin="miter"/>
<path d="M276.8 656.1 L285.7 656.1 A3.7 3.7 0 1 0 282 652.4 M276.8 659.8 L297.7 659.8 A3.9 3.9 0 1 0 293.9 655.9 M276.8 663.3 L297.7 663.3 A3.9 3.9 0 1 1 293.9 667.2 M276.8 666.9 L285.7 666.9 A3.7 3.7 0 1 1 282 670.6" fill="none" stroke="#1a1a1a" stroke-width="1.45" stroke-linecap="round"/>
<g font-family="Liberation Sans, sans-serif" font-weight="bold" fill="#141414">
<text transform="translate(108.9 46.7) scale(1 1.06)" font-size="15.6">Power Flow System™</text>
<text x="108.9" y="65.8" font-size="10.65">Inserts made of breathable</text>
<text x="108.9" y="80.7" font-size="10.62">and ventilated steel mesh material</text>
<text transform="translate(413.6 46.7) scale(1 1.06)" font-size="15.45">Pro Shield System™</text>
<text x="413.6" y="65.9" font-size="10.6">Reinforcement under the gear shift</text>
<text x="413.6" y="81.0" font-size="10.6">lever, ankle protection at the IPA level,</text>
<text x="413.6" y="95.4" font-size="10.5">and shin protection at the IPS level</text>
<text transform="translate(342.3 648.1) scale(1 1.06)" font-size="15.76">Weatherproof™</text>
<text x="342.3" y="667.3" font-size="10.73">Water- and windproof Sympatex</text>
<text x="342.3" y="681.7" font-size="10.7">membrane with great properties</text>
</g>
</svg>
</body></html>
